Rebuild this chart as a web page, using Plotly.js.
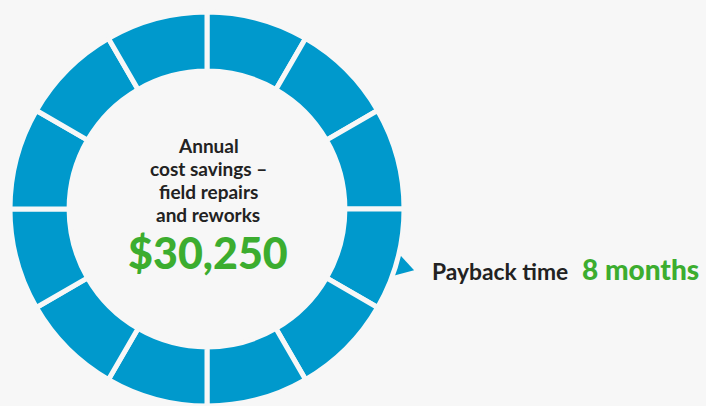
<!DOCTYPE html>
<html>
<head>
<meta charset="utf-8">
<script src="https://cdn.plot.ly/plotly-3.0.1.min.js"></script>
<style>html,body{margin:0;padding:0;background:#f7f7f7;}#chart{width:706px;height:406px;}</style>
</head>
<body>
<div id="chart"></div>
<script>
// Data
var months = ["Jan","Feb","Mar","Apr","May","Jun","Jul","Aug","Sep","Oct","Nov","Dec"];
var monthShare = [1,1,1,1,1,1,1,1,1,1,1,1];
var centerLines = ["Annual", "cost savings \u2013", "field repairs", "and reworks"];
var savingsLabel = "$30,250";
var paybackLabel = "Payback time";
var paybackValue = "8 months";

var W = 706, H = 406;
var cx = 207, cy = 209, R = 197;
function px(x){ return x / W; }
function py(y){ return 1 - y / H; }

var font = "Lato, 'Open Sans', sans-serif";
var blue = "#0099cc", green = "#3cad2f", dark = "#222222", bg = "#f7f7f7";

var trace = {
  type: "pie",
  values: monthShare,
  labels: months,
  sort: false,
  direction: "clockwise",
  rotation: 0,
  hole: 0.70,
  textinfo: "none",
  hoverinfo: "label",
  showlegend: false,
  marker: { colors: months.map(function(){ return blue; }), line: { color: bg, width: 5 } },
  domain: { x: [px(cx - R), px(cx + R)], y: [py(cy + R), py(cy - R)] }
};

// arrow pointer on the outer ring (polar geometry from center)
function polar(r, deg){ var a = deg * Math.PI / 180; return [cx + r * Math.sin(a), cy - r * Math.cos(a)]; }
var p1 = polar(R - 3, 102.5), p2 = polar(R + 19, 106.5), p3 = polar(R - 3, 110.5);
var path = "M " + px(p1[0]) + " " + py(p1[1]) + " L " + px(p2[0]) + " " + py(p2[1]) + " L " + px(p3[0]) + " " + py(p3[1]) + " Z";

var annotations = [];
var lineY = [145.5, 168.5, 191.5, 214.5];
centerLines.forEach(function(t, i){
  annotations.push({ text: t, x: px(cx + 1), y: py(lineY[i]), xref: "paper", yref: "paper", xanchor: "center", yanchor: "middle", showarrow: false,
    font: { family: font, size: 19, color: dark, weight: 700 } });
});
annotations.push({ text: savingsLabel, x: px(cx + 1), y: py(252), xref: "paper", yref: "paper", xanchor: "center", yanchor: "middle", showarrow: false,
  font: { family: font, size: 43, color: green, weight: 900 } });
annotations.push({ text: paybackLabel, x: px(430), y: py(271), xref: "paper", yref: "paper", xanchor: "left", yanchor: "middle", showarrow: false,
  font: { family: font, size: 22.8, color: dark, weight: 700 } });
annotations.push({ text: paybackValue, x: px(580), y: py(269), xref: "paper", yref: "paper", xanchor: "left", yanchor: "middle", showarrow: false,
  font: { family: font, size: 28, color: green, weight: 900 } });

var layout = {
  width: W, height: H,
  margin: { l: 0, r: 0, t: 0, b: 0 },
  paper_bgcolor: bg, plot_bgcolor: bg,
  showlegend: false,
  annotations: annotations,
  shapes: [{ type: "path", xref: "paper", yref: "paper", path: path, fillcolor: blue, line: { width: 0 }, layer: "below" }]
};

Plotly.newPlot("chart", [trace], layout, { displayModeBar: false, staticPlot: true });
</script>
</body>
</html>
